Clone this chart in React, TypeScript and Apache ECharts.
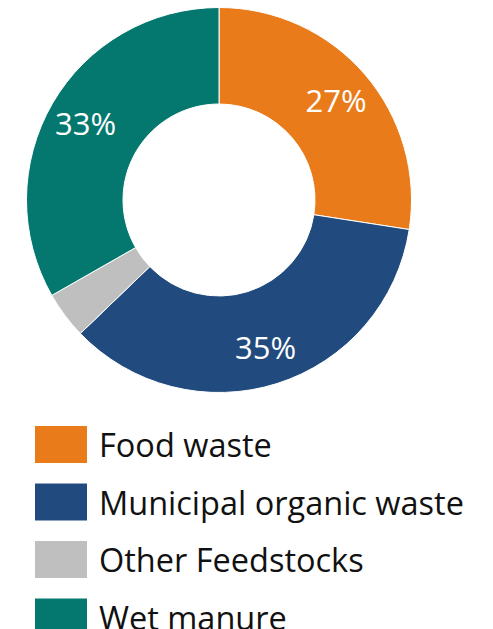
import React, { useEffect, useRef } from "react";
import * as echarts from "echarts";

const categories = ["Food waste", "Municipal organic waste", "Other Feedstocks", "Wet manure"];
const shares = [27.45, 35.35, 3.95, 33.25];
const showLabel = [true, true, false, true];
const colors = ["#E97B1B", "#214B7E", "#BFBFBF", "#04786E"];

export default function App() {
  const ref = useRef<HTMLDivElement>(null);
  useEffect(() => {
    document.body.style.margin = "0";
    const chart = echarts.init(ref.current!, undefined, { renderer: "svg" });
    const data = categories.map((name, i) => ({
      name,
      value: shares[i],
      itemStyle: { color: colors[i] },
    }));
    const labelData = categories.map((name, i) => ({
      name,
      value: shares[i],
      label: { show: showLabel[i] },
    }));
    chart.setOption({
      animation: false,
      legend: {
        orient: "vertical",
        left: 33,
        top: 424,
        height: 220,
        padding: 0,
        icon: "rect",
        itemWidth: 54,
        itemHeight: 39,
        itemGap: 16.5,
        selectedMode: false,
        data: categories,
        textStyle: {
          fontFamily: "Open Sans",
          fontSize: 32.5,
          lineHeight: 39,
          color: "#111",
          padding: [0, 0, 0, 6],
        },
      },
      series: [
        {
          type: "pie",
          center: [219, 200],
          radius: [96, 192.5],
          startAngle: 90,
          clockwise: true,
          silent: true,
          label: { show: false },
          labelLine: { show: false },
          itemStyle: { borderColor: "#ffffff", borderWidth: 1 },
          data,
        },
        {
          type: "pie",
          center: [219, 200],
          radius: [110, 192.5],
          startAngle: 90,
          clockwise: true,
          silent: true,
          itemStyle: { color: "rgba(0,0,0,0)" },
          labelLine: { show: false },
          label: {
            show: true,
            position: "inside",
            color: "#ffffff",
            fontFamily: "Open Sans",
            fontSize: 31,
            formatter: (p: any) => Math.round(p.value) + "%",
          },
          data: labelData,
        },
      ],
    });
    return () => chart.dispose();
  }, []);
  return <div ref={ref} style={{ width: 493, height: 629 }} />;
}
